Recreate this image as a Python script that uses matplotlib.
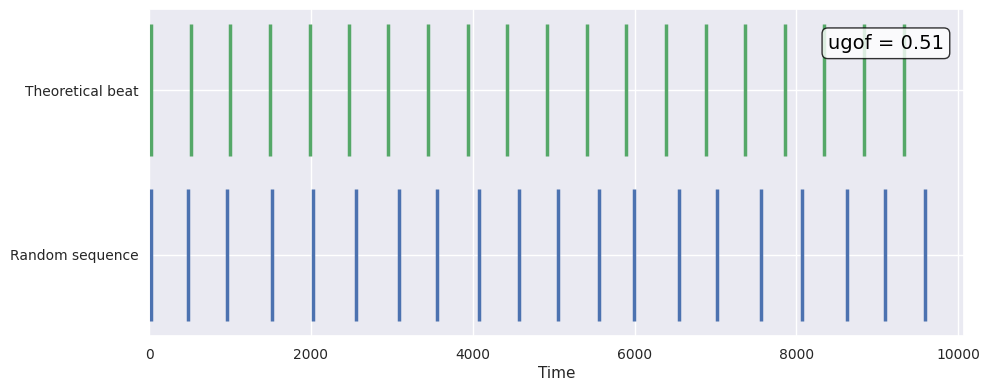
import matplotlib
matplotlib.use("Agg")
import matplotlib.pyplot as plt
import seaborn as sns

sns.set_theme(style="darkgrid")
plt.rcParams['font.family'] = ['DejaVu Sans']

# Event times
theoretical_beat = [20, 514, 1002, 1490, 1984, 2472, 2959, 3453, 3941, 4428,
                    4922, 5407, 5897, 6391, 6877, 7366, 7860, 8345, 8839, 9329]
random_sequence = [20, 484, 965, 1520, 2027, 2564, 3089, 3558, 4083, 4570,
                   5058, 5558, 5996, 6545, 7021, 7558, 8064, 8626, 9101, 9588]
row_labels = ["Random sequence", "Theoretical beat"]
ugof_value = 0.51

blue = "#4C72B0"
green = "#55A868"

fig = plt.figure(figsize=(9.89, 3.90), dpi=100)
ax = fig.add_axes([149 / 989, 1 - 335.7 / 390, (964.3 - 149) / 989, (335.7 - 9.3) / 390])

ax.eventplot([random_sequence, theoretical_beat], lineoffsets=[0, 1],
             linelengths=0.8, linewidths=2.5, colors=[blue, green])

ax.set_yticks([0, 1])
ax.set_yticklabels(row_labels, fontsize=10)
ax.set_ylim(-0.49, 1.49)
ax.set_xlim(0, 10075)
ax.set_xticks([0, 2000, 4000, 6000, 8000, 10000])
ax.tick_params(axis='x', labelsize=10, pad=2.5)
ax.tick_params(axis='y', pad=1.3)
ax.set_xlabel("Time", fontsize=11, labelpad=3)

ax.text(0.975, 0.925, f"ugof = {ugof_value:.2f}", transform=ax.transAxes,
        ha='right', va='top', fontsize=14, color='black',
        bbox=dict(boxstyle='round', facecolor='white', alpha=0.8, edgecolor='black'))

fig.savefig("out.png", dpi=100)
